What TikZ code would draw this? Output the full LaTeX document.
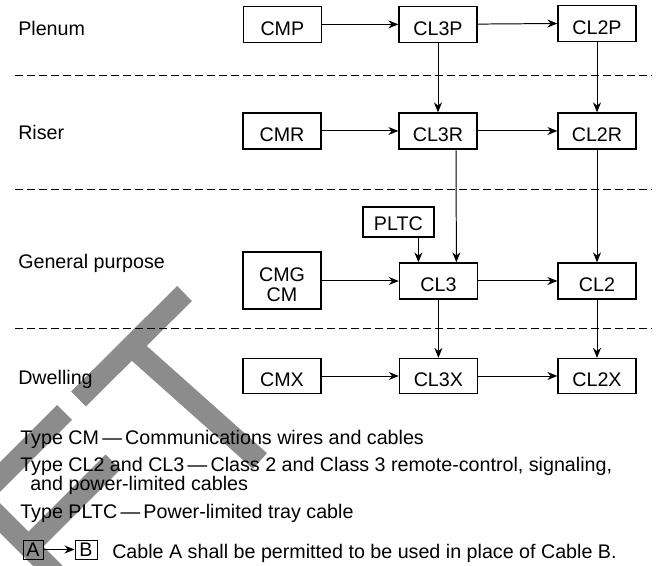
\documentclass[tikz,border=0pt]{standalone}
\usepackage{fontspec}
\setmainfont{Liberation Sans}
\usetikzlibrary{arrows.meta,positioning,calc}

\begin{document}
\begin{tikzpicture}[
    box/.style={rectangle, draw=black, line width=0.9pt,
                minimum width=1.95cm, minimum height=0.9cm, inner sep=0pt,
                text height=0.55cm, text depth=0pt,
                font=\fontsize{14}{14.2}\selectfont},
    tiny/.style={rectangle, draw=black, line width=0.7pt, inner sep=0pt,
                minimum width=0.5cm, minimum height=0.475cm,
                font=\fontsize{14}{14.2}\selectfont},
    lbl/.style={anchor=base west, inner sep=0pt,
                font=\fontsize{14}{14.2}\selectfont},
    arr/.style={-{Stealth[length=2.5mm, width=2mm]}, line width=0.7pt},
    sep/.style={dash pattern=on 0.19cm off 0.11cm, line width=0.7pt},
    wm/.style={draw=black!45, line width=0.525cm},
]
\useasboundingbox (0,0) rectangle (16.475,14.15);

% grey bands behind everything
\begin{scope}
\clip (0,0) rectangle (16.475,14.15);
\draw[wm] (4.6125,6.8125) -- (1.9625,4.175);
\draw[wm] (3.275,5.5) -- (6.5,2.625);
\draw[wm] (1.6125,3.8375) -- (-0.375,1.85);
\draw[wm] (-0.375,1.575) -- (1.75,-0.55);
\draw[wm] (2.825,2.6) -- (0.7125,0.4875);
\end{scope}

% dashed separators
\foreach \y in {12.25,9.4,5.95}
  \draw[sep] (0.375,\y) -- (16.3,\y);

% row titles
\node[lbl] (plenum) at (0.45,13.25) {Plenum};
\node[lbl] (riser) at (0.45,10.65) {Riser};
\node[lbl] (general) at (0.45,7.425) {General purpose};
\node[lbl] (dwelling) at (0.45,4.525) {Dwelling};

% plenum row
\node[box] (cmp) at (7.06,13.54) {CMP};
\node[box] (cl3p) at (10.95,13.54) {CL3P};
\node[box] (cl2p) at (14.925,13.57) {CL2P};
\draw[arr] (cmp) -- (cl3p);
\draw[arr] (cl3p) -- (cl2p);

% riser row
\node[box] (cmr) at (7.05,10.875) {CMR};
\node[box] (cl3r) at (10.95,10.875) {CL3R};
\node[box] (cl2r) at (14.925,10.875) {CL2R};
\draw[arr] (cmr) -- (cl3r);
\draw[arr] (cl3r) -- (cl2r);
\draw[arr] (cl3p) -- (cl3r);
\draw[arr] (cl2p) -- (cl2r);

% general purpose row
\node[box, minimum height=1.425cm, text height=1.075cm, text depth=0pt,
      align=center] (cmg) at (7.05,7.14) {CMG\\CM};
\node[box] (cl3) at (10.96,7.125) {CL3};
\node[box] (cl2) at (14.925,7.125) {CL2};
\node[box, minimum width=1.775cm, minimum height=0.75cm,
      text height=0.45cm] (pltc) at (9.96,8.6) {PLTC};
\draw[arr] (cmg.east |- cl3) -- (cl3);
\draw[arr] (cl3) -- (cl2);
\draw[arr] ([xshift=-0.5cm]cl3.north |- pltc.south) -- ([xshift=-0.5cm]cl3.north);
\draw[arr] ([xshift=0.45cm]cl3r.south) -- ([xshift=0.45cm]cl3.north);
\draw[arr] (cl2r) -- (cl2);

% dwelling row
\node[box, minimum height=0.875cm] (cmx) at (7.05,4.75) {CMX};
\node[box, minimum height=0.875cm] (cl3x) at (10.96,4.75) {CL3X};
\node[box, minimum height=0.875cm] (cl2x) at (14.925,4.75) {CL2X};
\draw[arr] (cmx) -- (cl3x);
\draw[arr] (cl3x) -- (cl2x);
\draw[arr] (cl3) -- (cl3x);
\draw[arr] (cl2) -- (cl2x);

% key
\node[lbl] (keycm) at (0.5,3.025) {Type CM\,—\,Communications wires and cables};
\node[lbl] (keycl) at (0.5,2.35) {Type CL2 and CL3\,—\,Class 2 and Class 3 remote-control, signaling,};
\node[lbl] (keycl2) at (0.75,1.875) {and power-limited cables};
\node[lbl] (keypltc) at (0.5,1.175) {Type PLTC\,—\,Power-limited tray cable};
\node[tiny] (ka) at (0.825,0.4125) {A};
\node[tiny, minimum width=0.55cm] (kb) at (2.15,0.4125) {B};
\draw[arr] (ka) -- (kb);
\node[lbl] (keytxt) at (2.8,0.175) {Cable A shall be permitted to be used in place of Cable B.};

\end{tikzpicture}
\end{document}
